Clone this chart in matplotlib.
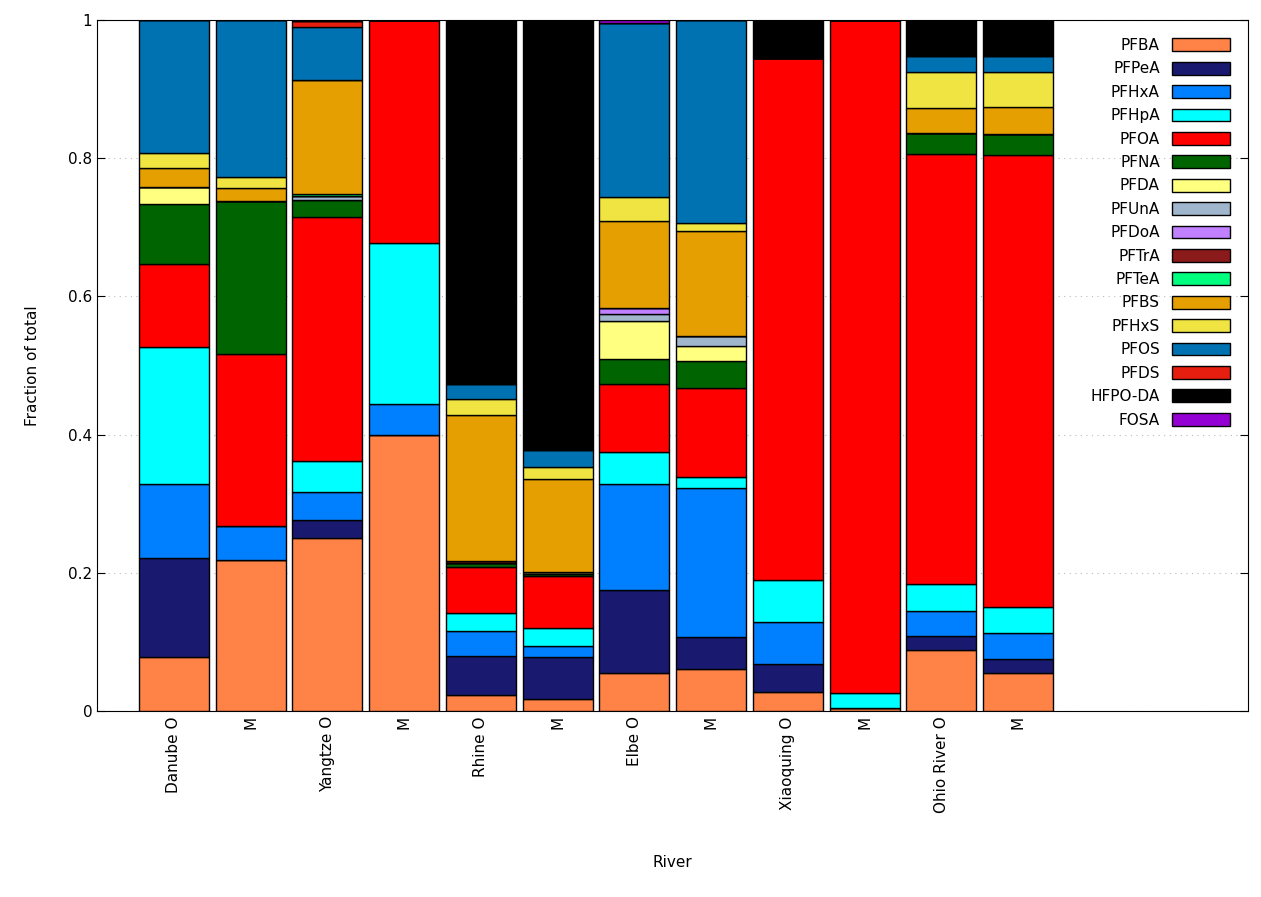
import matplotlib
matplotlib.use('Agg')
import matplotlib.pyplot as plt
import numpy as np

plt.rcParams.update({
    'font.family': 'DejaVu Sans',
    'font.size': 11,
})

# ── Data ──
samples = ['Danube O', 'M', 'Yangtze O', 'M', 'Rhine O', 'M',
           'Elbe O', 'M', 'Xiaoquing O', 'M', 'Ohio River O', 'M']

compounds = ['PFBA', 'PFPeA', 'PFHxA', 'PFHpA', 'PFOA', 'PFNA', 'PFDA', 'PFUnA',
             'PFDoA', 'PFTrA', 'PFTeA', 'PFBS', 'PFHxS', 'PFOS', 'PFDS', 'HFPO-DA', 'FOSA']

colors = ['#ff8247', '#191970', '#0080ff', '#00ffff', '#ff0000', '#006400', '#ffff80',
          '#a0b6cd', '#c080ff', '#8b1a1a', '#00ff7f', '#e69f00', '#f0e442', '#0072b2',
          '#e51e10', '#000000', '#9400d3']

# fractions per sample, in compound order
danube_o  = [0.079, 0.142, 0.107, 0.199, 0.120, 0.086, 0.025, 0, 0, 0, 0, 0.028, 0.022, 0.192, 0, 0, 0]
danube_m  = [0.219, 0, 0.049, 0, 0.249, 0.221, 0, 0, 0, 0, 0, 0.019, 0.016, 0.227, 0, 0, 0]
yangtze_o = [0.250, 0.027, 0.040, 0.045, 0.353, 0.024, 0, 0.006, 0, 0, 0.003, 0.165, 0, 0.077, 0.008, 0, 0]
yangtze_m = [0.400, 0, 0.045, 0.232, 0.323, 0, 0, 0, 0, 0, 0, 0, 0, 0, 0, 0, 0]
rhine_o   = [0.023, 0.057, 0.036, 0.026, 0.067, 0.006, 0, 0, 0, 0.003, 0, 0.211, 0.023, 0.021, 0, 0.527, 0]
rhine_m   = [0.018, 0.061, 0.015, 0.026, 0.075, 0.004, 0.003, 0, 0, 0, 0, 0.134, 0.017, 0.025, 0, 0.622, 0]
elbe_o    = [0.056, 0.119, 0.154, 0.046, 0.099, 0.035, 0.055, 0.010, 0.009, 0, 0, 0.126, 0.035, 0.252, 0, 0, 0.004]
elbe_m    = [0.061, 0.046, 0.216, 0.016, 0.128, 0.040, 0.021, 0.014, 0, 0, 0, 0.153, 0.011, 0.294, 0, 0, 0]
xiao_o    = [0.028, 0.040, 0.061, 0.061, 0.754, 0, 0, 0, 0, 0, 0, 0, 0, 0.002, 0, 0.054, 0]
xiao_m    = [0.005, 0, 0, 0.021, 0.974, 0, 0, 0, 0, 0, 0, 0, 0, 0, 0, 0, 0]
ohio_o    = [0.088, 0.021, 0.036, 0.039, 0.622, 0.030, 0, 0, 0, 0, 0, 0.037, 0.052, 0.023, 0, 0.052, 0]
ohio_m    = [0.056, 0.019, 0.038, 0.038, 0.654, 0.030, 0, 0, 0, 0, 0, 0.039, 0.051, 0.023, 0, 0.052, 0]

table = np.array([danube_o, danube_m, yangtze_o, yangtze_m, rhine_o, rhine_m,
                  elbe_o, elbe_m, xiao_o, xiao_m, ohio_o, ohio_m]).T

# ── Plot ──
fig = plt.figure(figsize=(12.61, 8.97), dpi=100)
ax = fig.add_axes([0.077, 0.207, 0.913, 0.771])

x = np.arange(len(samples))
bottom = np.zeros(len(samples))
for name, col, vals in zip(compounds, colors, table):
    ax.bar(x, vals, bottom=bottom, width=0.91, color=col, edgecolor='black',
           linewidth=1.0, label=name, zorder=3)
    bottom += vals

ax.set_xlim(-1, 14)
ax.set_ylim(0, 1)
ax.set_xticks(x)
ax.set_xticklabels(samples, rotation=90)
ax.set_yticks([0, 0.2, 0.4, 0.6, 0.8, 1])
ax.set_yticklabels(['0', '0.2', '0.4', '0.6', '0.8', '1'])
ax.tick_params(direction='in', length=6, top=True, right=True)
ax.grid(True, axis='y', linestyle=(0, (1, 4)), color='#bbbbbb', linewidth=0.8, zorder=0)
ax.set_xlabel('River', labelpad=30)
ax.set_ylabel('Fraction of total', labelpad=20)

ax.legend(loc='upper right', frameon=False, markerfirst=False, handlelength=3.8,
          handleheight=0.9, labelspacing=0.55, borderaxespad=0.8, fontsize=11)

plt.savefig('out.png', dpi=100)
